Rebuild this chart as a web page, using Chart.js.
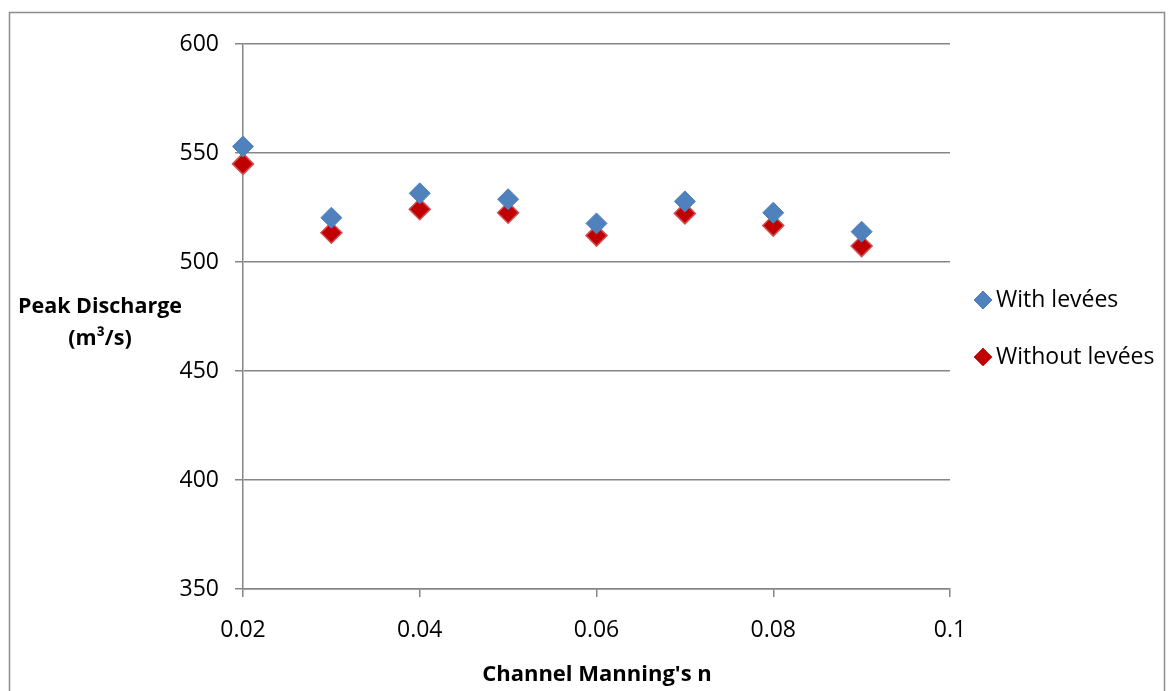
<!DOCTYPE html>
<html>
<head>
<meta charset="utf-8">
<script src="https://cdn.jsdelivr.net/npm/chart.js@4/dist/chart.umd.min.js"></script>
<style>
  html, body { margin: 0; padding: 0; background: #fff; }
  #wrap { width: 1174px; height: 691px; position: relative; }
</style>
</head>
<body>
<div id="wrap"><canvas id="chart" width="1174" height="691"></canvas></div>
<script>
// valores
const manningN = [0.02, 0.03, 0.04, 0.05, 0.06, 0.07, 0.08, 0.09];
const withLevees = [553, 520.3, 531.5, 528.8, 517.7, 527.8, 522.6, 513.9];
const withoutLevees = [545, 513.4, 524.2, 522.6, 512.1, 522.3, 516.7, 507.3];
const seriesNames = ['With levées', 'Without levées'];
const xTickValues = [0.02, 0.04, 0.06, 0.08, 0.1];
const yTitleLines = ['Peak Discharge', '(m³/s)'];
const xTitle = "Channel Manning's n";

const FONT = "'Open Sans', 'Liberation Sans', sans-serif";
const blue = '#4F81BD';
const red = '#C00000';
const redEdge = '#D05050';
const gridGray = '#868686';

function toPoints(xs, ys) {
    return xs.map((x, i) => ({ x: x, y: ys[i] }));
}

// desenha moldura, títulos dos eixos e legenda
const extrasPlugin = {
    id: 'extras',
    afterDraw(chart) {
        const ctx = chart.ctx;
        ctx.save();
        ctx.strokeStyle = '#8c8c8c';
        ctx.lineWidth = 1.5;
        ctx.strokeRect(9.5, 12.5, 1155, 700);

        ctx.fillStyle = '#000';
        ctx.font = 'bold 21.5px ' + FONT;
        ctx.textAlign = 'center';
        ctx.textBaseline = 'middle';
        ctx.fillText(yTitleLines[0], 100, 307);
        ctx.fillText(yTitleLines[1], 100, 339);
        ctx.font = 'bold 22px ' + FONT;
        ctx.fillText(xTitle, 597, 675);

        const colors = [[blue, blue], [red, redEdge]];
        const ys = [300, 357];
        ctx.font = '23px ' + FONT;
        ctx.textAlign = 'left';
        seriesNames.forEach((name, i) => {
            ctx.fillStyle = colors[i][0];
            ctx.strokeStyle = colors[i][1];
            ctx.lineWidth = 1;
            Chart.helpers.drawPoint(ctx, { pointStyle: 'rectRot', radius: 9, borderWidth: 1 }, 983, ys[i]);
            ctx.fill();
            ctx.fillStyle = '#000';
            ctx.fillText(name, 996, ys[i]);
        });
        ctx.restore();
    }
};

function renderChart() {
    const ctx = document.getElementById('chart').getContext('2d');
    new Chart(ctx, {
        type: 'scatter',
        data: {
            datasets: [{
                label: seriesNames[0],
                data: toPoints(manningN, withLevees),
                pointStyle: 'rectRot',
                pointRadius: 10.5,
                pointHoverRadius: 10.5,
                backgroundColor: blue,
                borderColor: blue,
                borderWidth: 1,
                clip: false
            }, {
                label: seriesNames[1],
                data: toPoints(manningN, withoutLevees),
                pointStyle: 'rectRot',
                pointRadius: 10.5,
                pointHoverRadius: 10.5,
                backgroundColor: red,
                borderColor: redEdge,
                borderWidth: 1.5,
                clip: false
            }]
        },
        options: {
            responsive: false,
            animation: false,
            layout: { padding: { top: 44, right: 224, bottom: 0, left: 0 } },
            scales: {
                x: {
                    type: 'linear',
                    min: 0.02,
                    max: 0.1,
                    afterFit(scale) { scale.height = 102; },
                    afterBuildTicks(scale) {
                        scale.ticks = xTickValues.map(v => ({ value: v }));
                    },
                    ticks: {
                        color: '#000',
                        font: { size: 23, family: FONT },
                        padding: 20,
                        maxRotation: 0,
                        callback: v => String(+v.toFixed(2))
                    },
                    grid: { drawOnChartArea: false, drawTicks: true, tickLength: 8, color: gridGray, lineWidth: 1.5 },
                    border: { color: gridGray, width: 1.5 }
                },
                y: {
                    min: 350,
                    max: 600,
                    afterFit(scale) { scale.width = 243; },
                    ticks: {
                        stepSize: 50,
                        color: '#000',
                        font: { size: 23, family: FONT },
                        padding: 16
                    },
                    grid: { color: gridGray, lineWidth: 1.5, tickLength: 8 },
                    border: { color: gridGray, width: 1.5 }
                }
            },
            plugins: {
                legend: { display: false },
                tooltip: { enabled: false }
            }
        },
        plugins: [extrasPlugin]
    });
}

renderChart();
</script>
</body>
</html>
